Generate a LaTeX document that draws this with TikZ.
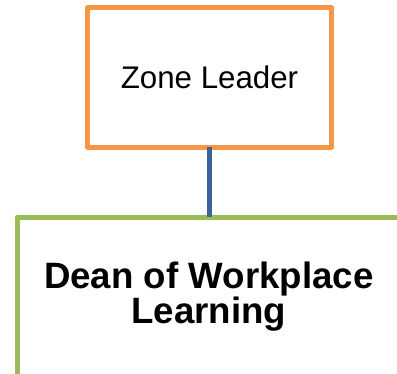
\documentclass[tikz,border=0pt]{standalone}
\usepackage{fontspec}
\setmainfont{Liberation Sans}
\definecolor{boxorange}{HTML}{F79646}
\definecolor{boxgreen}{HTML}{9BBB59}
\definecolor{linkblue}{HTML}{3C6496}
\begin{document}
\begin{tikzpicture}[x=1bp,y=1bp,
  orgbox/.style={draw, line width=5bp, line join=round, fill=white, inner sep=0pt, align=center, outer sep=0pt},
  link/.style={draw=linkblue, line width=4.8bp}]
\useasboundingbox (0,0) rectangle (397,374);
\clip (0,0) rectangle (397,374);
\node[orgbox, draw=boxorange, minimum width=244bp, minimum height=139.5bp,
      font=\fontsize{31.4}{34}\selectfont] (zone) at (209.5,296.75) {Zone Leader};
\node[orgbox, draw=boxgreen, minimum width=382.5bp, minimum height=158.5bp,
      font=\fontsize{36.8}{35}\selectfont\bfseries] (dean) at (208.75,77.25) {Dean of Workplace\\Learning};
\draw[link] (zone.south) -- (zone.south |- dean.north);
\end{tikzpicture}
\end{document}
